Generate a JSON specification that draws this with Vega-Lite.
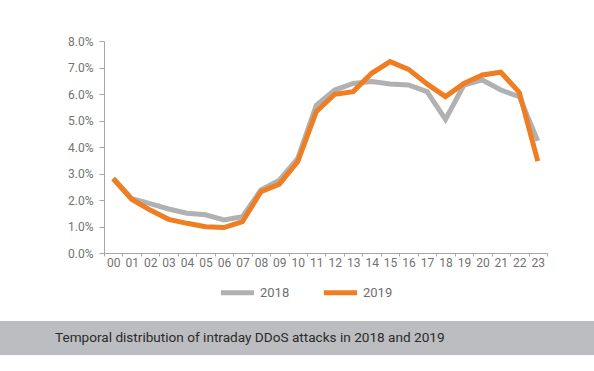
{
  "$schema": "https://vega.github.io/schema/vega-lite/v6.json",
  "padding": {"top": 35, "left": 0, "right": 0, "bottom": 0},
  "background": "white",
  "config": {"view": {"stroke": null}, "font": "Roboto"},
  "spacing": 18,
  "resolve": {"legend": {"color": "independent"}},
  "vconcat": [
    {
      "width": 547,
      "height": 212,
      "data": {
        "values": [
          {"hour": "00", "year": "2018", "pct": 2.82},
          {"hour": "01", "year": "2018", "pct": 2.05},
          {"hour": "02", "year": "2018", "pct": 1.86},
          {"hour": "03", "year": "2018", "pct": 1.66},
          {"hour": "04", "year": "2018", "pct": 1.5},
          {"hour": "05", "year": "2018", "pct": 1.44},
          {"hour": "06", "year": "2018", "pct": 1.25},
          {"hour": "07", "year": "2018", "pct": 1.37},
          {"hour": "08", "year": "2018", "pct": 2.38},
          {"hour": "09", "year": "2018", "pct": 2.75},
          {"hour": "10", "year": "2018", "pct": 3.57},
          {"hour": "11", "year": "2018", "pct": 5.58},
          {"hour": "12", "year": "2018", "pct": 6.15},
          {"hour": "13", "year": "2018", "pct": 6.4},
          {"hour": "14", "year": "2018", "pct": 6.47},
          {"hour": "15", "year": "2018", "pct": 6.38},
          {"hour": "16", "year": "2018", "pct": 6.34},
          {"hour": "17", "year": "2018", "pct": 6.09},
          {"hour": "18", "year": "2018", "pct": 5.04},
          {"hour": "19", "year": "2018", "pct": 6.34},
          {"hour": "20", "year": "2018", "pct": 6.53},
          {"hour": "21", "year": "2018", "pct": 6.15},
          {"hour": "22", "year": "2018", "pct": 5.9},
          {"hour": "23", "year": "2018", "pct": 4.23},
          {"hour": "00", "year": "2019", "pct": 2.8},
          {"hour": "01", "year": "2019", "pct": 2.03},
          {"hour": "02", "year": "2019", "pct": 1.62},
          {"hour": "03", "year": "2019", "pct": 1.27},
          {"hour": "04", "year": "2019", "pct": 1.12},
          {"hour": "05", "year": "2019", "pct": 0.99},
          {"hour": "06", "year": "2019", "pct": 0.96},
          {"hour": "07", "year": "2019", "pct": 1.18},
          {"hour": "08", "year": "2019", "pct": 2.31},
          {"hour": "09", "year": "2019", "pct": 2.6},
          {"hour": "10", "year": "2019", "pct": 3.45},
          {"hour": "11", "year": "2019", "pct": 5.33},
          {"hour": "12", "year": "2019", "pct": 5.99},
          {"hour": "13", "year": "2019", "pct": 6.09},
          {"hour": "14", "year": "2019", "pct": 6.78},
          {"hour": "15", "year": "2019", "pct": 7.22},
          {"hour": "16", "year": "2019", "pct": 6.93},
          {"hour": "17", "year": "2019", "pct": 6.38},
          {"hour": "18", "year": "2019", "pct": 5.9},
          {"hour": "19", "year": "2019", "pct": 6.4},
          {"hour": "20", "year": "2019", "pct": 6.72},
          {"hour": "21", "year": "2019", "pct": 6.82},
          {"hour": "22", "year": "2019", "pct": 6.06},
          {"hour": "23", "year": "2019", "pct": 3.47}
        ]
      },
      "mark": {"type": "line", "strokeWidth": 5},
      "encoding": {
        "x": {
          "field": "hour",
          "type": "ordinal",
          "scale": {"type": "band", "paddingInner": 0, "paddingOuter": 0, "range": [104, 547]},
          "axis": {
            "title": null,
            "labelAngle": 0,
            "tickBand": "extent",
            "domainColor": "#a6a6a6",
            "tickColor": "#a6a6a6",
            "tickSize": 3,
            "labelPadding": 1,
            "labelColor": "#727272",
            "labelFontSize": 12,
            "labelFont": "Roboto"
          }
        },
        "y": {
          "field": "pct",
          "type": "quantitative",
          "scale": {"domain": [0, 8], "nice": false},
          "axis": {
            "title": null,
            "values": [0, 1, 2, 3, 4, 5, 6, 7, 8],
            "labelExpr": "format(datum.value, '.1f') + '%'",
            "grid": false,
            "offset": -104,
            "domainColor": "#a6a6a6",
            "tickColor": "#a6a6a6",
            "tickSize": 5,
            "labelPadding": 6,
            "labelColor": "#727272",
            "labelFontSize": 12,
            "labelFont": "Roboto"
          }
        },
        "color": {
          "field": "year",
          "type": "nominal",
          "scale": {"domain": ["2018", "2019"], "range": ["#b1b1b3", "#ef7d22"]},
          "legend": {
            "title": null,
            "orient": "none",
            "direction": "horizontal",
            "legendX": 218,
            "legendY": 232,
            "padding": 0,
            "symbolType": "stroke",
            "symbolSize": 1100,
            "symbolStrokeWidth": 5,
            "labelFont": "Roboto",
            "labelFontSize": 13,
            "labelColor": "#6f6f6f",
            "labelOffset": 3,
            "columnPadding": 23
          }
        }
      }
    },
    {
      "width": 594,
      "height": 34,
      "view": {"fill": "#bcbdc0", "stroke": null},
      "data": {"values": [{"caption": "Temporal distribution of intraday DDoS attacks in 2018 and 2019"}]},
      "mark": {"type": "text", "font": "Roboto", "fontSize": 13.6, "color": "#2b2b2b", "align": "left", "dx": -242},
      "encoding": {"text": {"field": "caption", "type": "nominal"}}
    }
  ]
}
